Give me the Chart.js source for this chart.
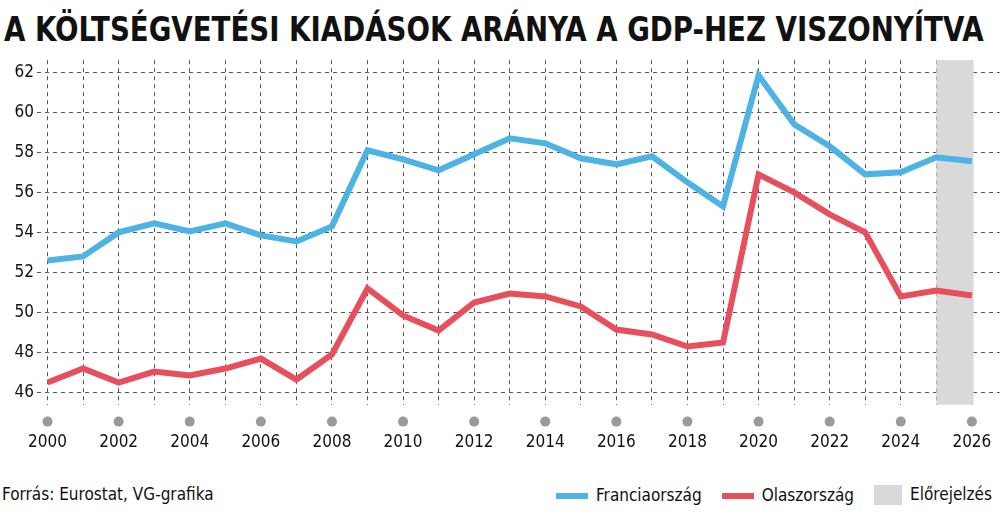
<!DOCTYPE html>
<html><head><meta charset="utf-8">
<script src="https://cdn.jsdelivr.net/npm/chart.js@4"></script>
<style>
  body{margin:0;background:#fff;font-family:'DejaVu Sans Condensed',sans-serif;overflow:hidden;width:1000px;height:515px;position:relative;}
  #title{position:absolute;left:4px;top:10px;font-size:33px;font-weight:bold;color:#111;white-space:nowrap;transform-origin:0 0;}
  #wrap{position:absolute;left:0;top:47px;width:1019px;height:434px;}
  #foot{position:absolute;left:0;top:484px;width:1000px;font-size:17px;color:#111;}
  #src{position:absolute;left:2px;}
  #leg{position:absolute;right:8px;display:flex;gap:20px;align-items:center;}
  .k{display:inline-block;vertical-align:middle;margin-right:8px;}
</style></head><body>
<div id="title">A KÖLTSÉGVETÉSI KIADÁSOK ARÁNYA A GDP-HEZ VISZONYÍTVA</div>
<div id="wrap"><canvas id="c"></canvas></div>
<div id="foot"><span id="src">Forrás: Eurostat, VG-grafika</span>
<span id="leg">
  <span><span class="k" style="width:32px;height:6px;background:#4db3e4"></span>Franciaország</span>
  <span><span class="k" style="width:32px;height:6px;background:#e84f5c"></span>Olaszország</span>
  <span><span class="k" style="width:28px;height:20px;background:#d9d9d9"></span>Előrejelzés</span>
</span></div>
<script>
const years = [2000,2001,2002,2003,2004,2005,2006,2007,2008,2009,2010,2011,2012,2013,2014,2015,2016,2017,2018,2019,2020,2021,2022,2023,2024,2025,2026];
const france = [52.6,52.8,54.0,54.45,54.05,54.45,53.85,53.55,54.3,58.1,57.65,57.1,57.9,58.7,58.45,57.7,57.4,57.8,56.5,55.3,61.85,59.4,58.3,56.9,57.0,57.75,57.55];
const italy = [46.5,47.2,46.5,47.05,46.85,47.2,47.7,46.65,47.9,51.2,49.85,49.1,50.5,50.95,50.8,50.3,49.15,48.9,48.3,48.5,56.9,56.0,54.9,54.0,50.8,51.1,50.85];
const forecast = [2025, 2026.05];

const t = document.getElementById('title');
t.style.transform = 'scaleX(' + (980 / t.scrollWidth) + ')';

const extras = {
  id:'extras',
  beforeDatasetsDraw(ch){
    const {ctx, scales:{x,y}, chartArea:a} = ch;
    ctx.save();
    ctx.fillStyle='#d9d9d9';
    const x0=x.getPixelForValue(forecast[0]), x1=x.getPixelForValue(forecast[1]);
    ctx.fillRect(x0,a.top,x1-x0,a.bottom-a.top);
    ctx.restore();
  },
  afterDraw(ch){
    const {ctx, scales:{x}, chartArea:a} = ch;
    ctx.save();
    ctx.fillStyle='#9a9a9a';
    years.filter(v=>v%2===0).forEach(v=>{
      ctx.beginPath();ctx.arc(x.getPixelForValue(v),a.bottom+17,5,0,Math.PI*2);ctx.fill();
    });
    ctx.restore();
  }
};

const fnt = {family:"'DejaVu Sans Condensed',sans-serif",size:17};
new Chart(document.getElementById('c'),{
  type:'line',
  data:{datasets:[
    {data:years.map((v,i)=>({x:v,y:france[i]})),borderColor:'#4db3e4',borderWidth:6,pointRadius:0,tension:0},
    {data:years.map((v,i)=>({x:v,y:italy[i]})),borderColor:'#e84f5c',borderWidth:6,pointRadius:0,tension:0}
  ]},
  options:{
    responsive:true,maintainAspectRatio:false,animation:false,
    layout:{padding:{left:0,right:0,top:0}},
    plugins:{legend:{display:false},tooltip:{enabled:false}},
    scales:{
      x:{type:'linear',min:1999.7,max:2026.78,
        grid:{color:'#555',lineWidth:1,drawTicks:false},
        border:{display:false,dash:[4,4]},
        afterBuildTicks(s){s.ticks=years.map(v=>({value:v}));},
        ticks:{padding:28,autoSkip:false,maxRotation:0,color:'#111',font:fnt,
          callback:v=>v%2===0?String(v):''}},
      y:{min:45.4,max:62.6,
        grid:{color:'#555',lineWidth:1,drawTicks:false},
        border:{display:false,dash:[4,4]},
        afterBuildTicks(s){s.ticks=[46,48,50,52,54,56,58,60,62].map(v=>({value:v}));},
        ticks:{padding:3,color:'#111',font:fnt}}
    }
  },
  plugins:[extras]
});
</script>
</body></html>
